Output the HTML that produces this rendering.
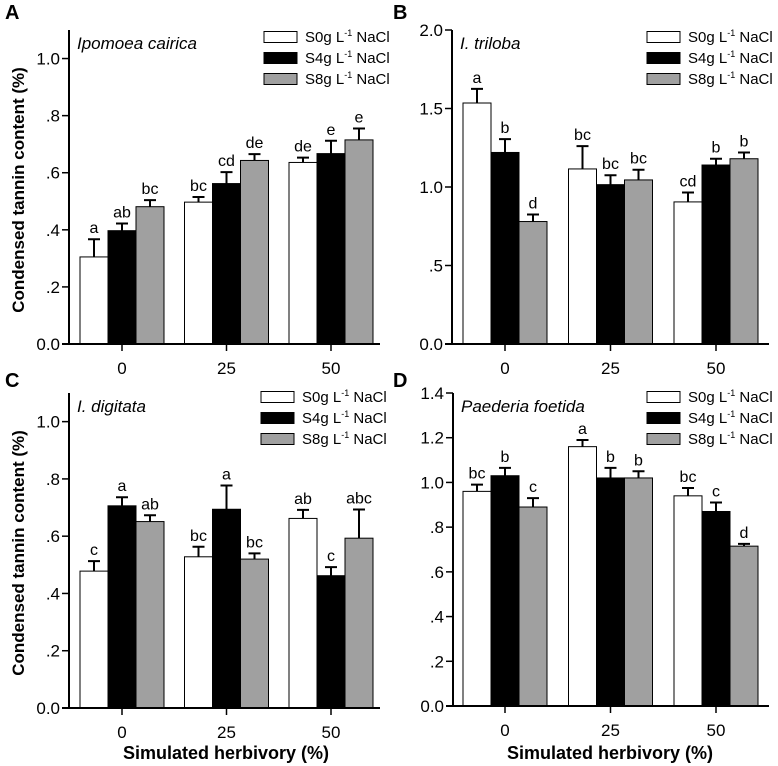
<!DOCTYPE html>
<html><head><meta charset="utf-8">
<style>
html,body{margin:0;padding:0;background:#fff;}
svg{display:block;font-family:"Liberation Sans",Arial,sans-serif;}
</style></head>
<body>
<svg id="fig" width="778" height="766" viewBox="0 0 778 766"></svg>
<script>
// ---- data ----
const categories = ["0","25","50"];
const seriesNames = ["S0g","S4g","S8g"];
const panelTitles = ["Ipomoea cairica","I. triloba","I. digitata","Paederia foetida"];
const panelLetters = ["A","B","C","D"];
const ticksA = [0,0.2,0.4,0.6,0.8,1.0];
const tickLabelsA = ["0.0",".2",".4",".6",".8","1.0"];
const ticksB = [0,0.5,1.0,1.5,2.0];
const tickLabelsB = ["0.0",".5","1.0","1.5","2.0"];
const ticksD = [0,0.2,0.4,0.6,0.8,1.0,1.2,1.4];
const tickLabelsD = ["0.0",".2",".4",".6",".8","1.0","1.2","1.4"];

const aS0=[0.305,0.497,0.636], aS4=[0.397,0.562,0.667], aS8=[0.481,0.643,0.715];
const aE0=[0.062,0.018,0.017], aE4=[0.025,0.040,0.045], aE8=[0.023,0.022,0.040];
const aL0=["a","bc","de"], aL4=["ab","cd","e"], aL8=["bc","de","e"];

const bS0=[1.535,1.115,0.905], bS4=[1.220,1.015,1.140], bS8=[0.780,1.045,1.180];
const bE0=[0.090,0.145,0.060], bE4=[0.085,0.060,0.040], bE8=[0.045,0.065,0.040];
const bL0=["a","bc","cd"], bL4=["b","bc","b"], bL8=["d","bc","b"];

const cS0=[0.478,0.528,0.662], cS4=[0.706,0.694,0.462], cS8=[0.651,0.520,0.593];
const cE0=[0.035,0.035,0.030], cE4=[0.030,0.083,0.030], cE8=[0.022,0.020,0.100];
const cL0=["c","bc","ab"], cL4=["a","a","c"], cL8=["ab","bc","abc"];

const dS0=[0.960,1.160,0.940], dS4=[1.030,1.020,0.870], dS8=[0.890,1.020,0.715];
const dE0=[0.030,0.030,0.035], dE4=[0.035,0.045,0.040], dE8=[0.040,0.030,0.010];
const dL0=["bc","a","bc"], dL4=["b","b","c"], dL8=["c","b","d"];

// ---- drawing ----
const NS="http://www.w3.org/2000/svg";
const svg=document.getElementById('fig');
function mk(tag,attrs,parent){const e=document.createElementNS(NS,tag);for(const k in attrs)e.setAttribute(k,attrs[k]);(parent||svg).appendChild(e);return e;}
const fills=["#ffffff","#000000","#a0a0a0"];

function panel(p){
  const g=mk('g',{});
  
  
  const y=v=>p.y0-(v/p.vmax)*(p.y0-p.yTop);
  const xc=i=>p.cx0+i*p.gap;
  const vals=[p.s0,p.s4,p.s8], errs=[p.e0,p.e4,p.e8], labs=[p.l0,p.l4,p.l8];
  for(let s=0;s<3;s++){
    for(let i=0;i<categories.length;i++){
      const x=xc(i)-42+s*28, top=y(vals[s][i]);
      const r=mk('rect',{x:x,y:top,width:28,height:p.y0-top,fill:fills[s],stroke:'#000','stroke-width':1},g);
      
      
      const et=y(vals[s][i]+errs[s][i]), ex=x+14;
      const eb=mk('path',{d:`M${ex},${top}V${et}M${ex-6},${et}H${ex+6}`,stroke:'#000','stroke-width':2,fill:'none'},g);
      
      
      const t=mk('text',{x:ex,y:et-6,'text-anchor':'middle','font-size':16,fill:'#000'},g);
      t.textContent=labs[s][i];
      
      
    }
  }
  const ax=mk('path',{d:`M${p.ax},${p.yTop}V${p.y0}M${p.ax-7},${p.y0}H${p.xEnd}`,stroke:'#000','stroke-width':2,fill:'none'},g);
  
  
  p.ticks.forEach((v,k)=>{
    mk('line',{x1:p.ax-7,x2:p.ax,y1:y(v),y2:y(v),stroke:'#000','stroke-width':1.5},g);
    const t=mk('text',{x:p.ax-9,y:y(v)+6,'text-anchor':'end','font-size':17},g);
    t.textContent=p.tickLabels[k];
    
    
  });
  categories.forEach((c,i)=>{
    mk('line',{x1:xc(i),x2:xc(i),y1:p.y0,y2:p.y0+7,stroke:'#000','stroke-width':1.5},g);
    const t=mk('text',{x:xc(i),y:p.y0+30,'text-anchor':'middle','font-size':17},g);
    t.textContent=c;
    
    
  });
  const ti=mk('text',{x:p.ax+8,y:p.yTop+19,'font-size':17,'font-style':'italic'},g);
  ti.textContent=p.title;
  
  
  const pl=mk('text',{x:p.lx,y:p.ly,'font-size':20,'font-weight':'bold'},g);
  pl.textContent=p.letter;
  
  
  for(let s=0;s<3;s++){
    const cy=p.legY+s*21;
    const lr=mk('rect',{x:p.legX,y:cy-5.5,width:33,height:11,fill:fills[s],stroke:'#000','stroke-width':1},g);
    
    
    const lt=mk('text',{x:p.legX+41,y:cy+5,'font-size':15},g);
    lt.innerHTML=seriesNames[s]+' L<tspan dy="-6" font-size="9">-1</tspan><tspan dy="6"> NaCl</tspan>';
    
    
  }
}

panel({letter:'A',title:panelTitles[0],ax:69,y0:344,yTop:30,vmax:1.1,cx0:122,gap:104.5,xEnd:380,ticks:ticksA,tickLabels:tickLabelsA,s0:aS0,s4:aS4,s8:aS8,e0:aE0,e4:aE4,e8:aE8,l0:aL0,l4:aL4,l8:aL8,legX:264,legY:37,lx:5,ly:19});
panel({letter:'B',title:panelTitles[1],ax:452,y0:344,yTop:30,vmax:2.0,cx0:505,gap:105.5,xEnd:769,ticks:ticksB,tickLabels:tickLabelsB,s0:bS0,s4:bS4,s8:bS8,e0:bE0,e4:bE4,e8:bE8,l0:bL0,l4:bL4,l8:bL8,legX:647,legY:37,lx:393,ly:19});
panel({letter:'C',title:panelTitles[2],ax:69,y0:708,yTop:393,vmax:1.1,cx0:122,gap:104.5,xEnd:380,ticks:ticksA,tickLabels:tickLabelsA,s0:cS0,s4:cS4,s8:cS8,e0:cE0,e4:cE4,e8:cE8,l0:cL0,l4:cL4,l8:cL8,legX:261,legY:397,lx:5,ly:387});
panel({letter:'D',title:panelTitles[3],ax:453,y0:706,yTop:393,vmax:1.4,cx0:505,gap:105.5,xEnd:769,ticks:ticksD,tickLabels:tickLabelsD,s0:dS0,s4:dS4,s8:dS8,e0:dE0,e4:dE4,e8:dE8,l0:dL0,l4:dL4,l8:dL8,legX:647,legY:397,lx:393,ly:387});

[[18,190],[18,553]].forEach(([x,yy])=>{
  const t=mk('text',{x:x,y:yy,'text-anchor':'middle','font-size':17,'font-weight':'bold',transform:`rotate(-90 ${x} ${yy})`,dy:6});
  t.textContent='Condensed tannin content (%)';
  
  
});
[[226,759],[610,759]].forEach(([x,yy])=>{
  const t=mk('text',{x:x,y:yy,'text-anchor':'middle','font-size':18,'font-weight':'bold'});
  t.textContent='Simulated herbivory (%)';
  
  
});
</script>
</body></html>
